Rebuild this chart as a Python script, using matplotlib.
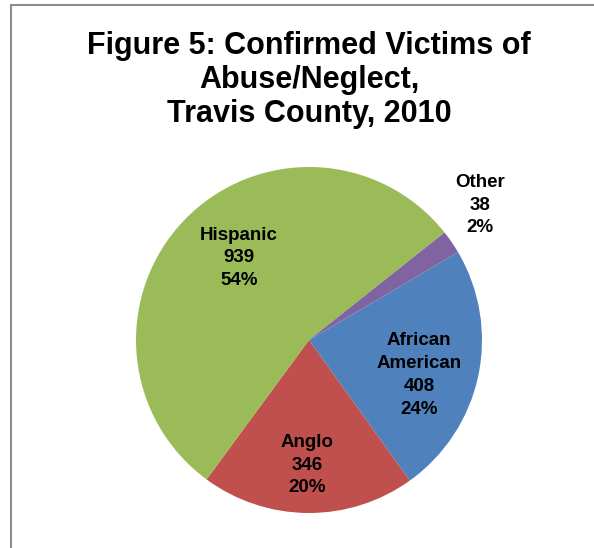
import matplotlib.pyplot as plt
from matplotlib.patches import Rectangle

# Data
groups = ['African\nAmerican', 'Anglo', 'Hispanic', 'Other']
counts = [408, 346, 939, 38]
colors = ['#4f81bd', '#c0504d', '#9bbb59', '#8064a2']

plt.rcParams['font.family'] = ['Liberation Sans', 'DejaVu Sans']

fig = plt.figure(figsize=(5.94, 5.48), dpi=100)

# chart frame (partly cut off on the right/bottom in the reference)
fig.patches.append(Rectangle((11 / 594, -0.1), 1.2, 1 - 5 / 548 + 0.1,
                             transform=fig.transFigure, fill=False,
                             edgecolor='#8c8c8c', linewidth=1.5))

fig.text(309 / 594, 1 - 80 / 548, 'Figure 5: Confirmed Victims of\nAbuse/Neglect,\nTravis County, 2010',
         ha='center', va='center', fontsize=22, fontweight='bold', linespacing=1.18)

# pie axes: center ~ (309, 340) px, radius ~ 173 px
r = 173
ax = fig.add_axes([(309 - r) / 594, (548 - 340 - r) / 548, 2 * r / 594, 2 * r / 548])
wedges, _ = ax.pie(counts, colors=colors, startangle=30.5, counterclock=False,
                   wedgeprops=dict(linewidth=0))
ax.set_xlim(-1, 1)
ax.set_ylim(-1, 1)
ax.set_aspect('auto')

total = sum(counts)
label_pos = [(419, 375), (307, 465), (239, 258), (480, 205)]
for g, c, (px, py) in zip(groups, counts, label_pos):
    pct = round(100 * c / total)
    fig.text(px / 594, 1 - py / 548, f'{g}\n{c}\n{pct}%', ha='center', va='center',
             fontsize=13.5, fontweight='bold', linespacing=1.45)

fig.savefig('out.png', dpi=100)
